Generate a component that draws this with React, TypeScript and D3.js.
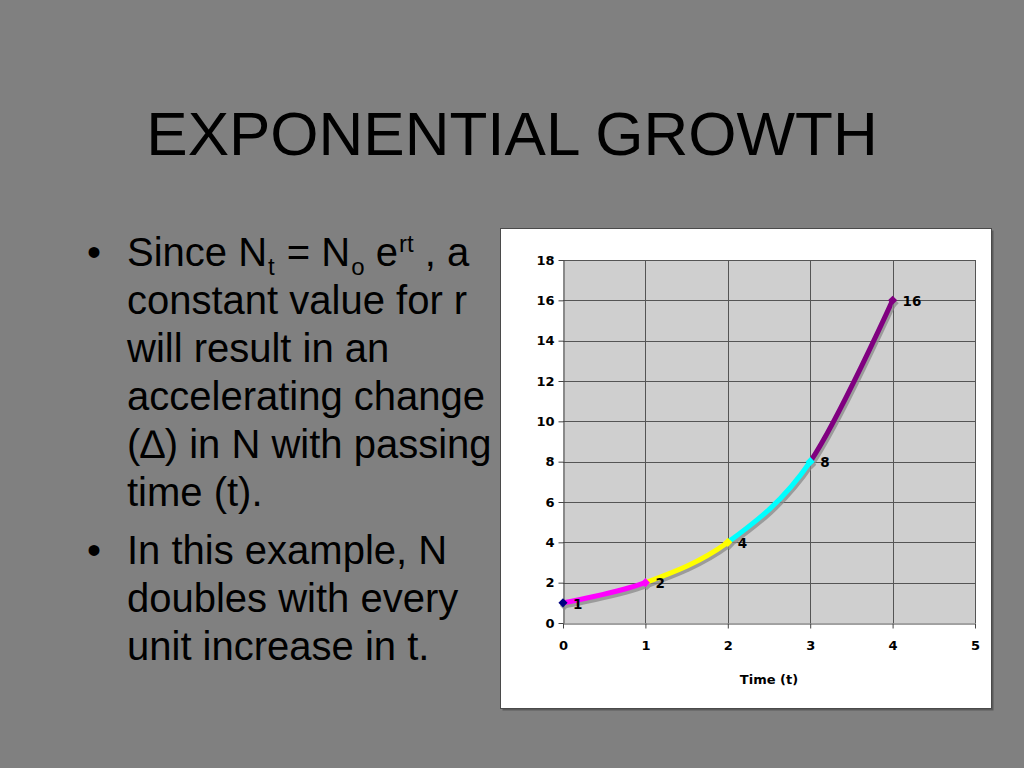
import React, { useEffect, useRef } from 'react'
import * as d3 from 'd3';

const W = 1024;
const H = 768;

// chart data
const times = [0, 1, 2, 3, 4];
const counts = [1, 2, 4, 8, 16];
const pointColors = ['#000080', '#ff00ff', '#ffff00', '#00ffff', '#800080'];
const xTicks = [0, 1, 2, 3, 4, 5];
const yTicks = [0, 2, 4, 6, 8, 10, 12, 14, 16, 18];

const TITLE = 'EXPONENTIAL GROWTH';
const bulletOneRest = ['constant value for r', 'will result in an', 'accelerating change', '(\u2206) in N with passing', 'time (t).'];
const bulletTwo = ['In this example, N', 'doubles with every', 'unit increase in t.'];

const TICK_FONT = '"DejaVu Sans", Verdana, sans-serif';
const SLIDE_FONT = '"Liberation Sans", Arial, sans-serif';

const App = () => {
  const svgRef = useRef<SVGSVGElement>(null);

  useEffect(() => {
    const svg = d3.select(svgRef.current);
    svg.selectAll('*').remove();

    // slide background
    svg.append('rect').attr('width', W).attr('height', H).attr('fill', '#808080');

    svg.append('text')
      .attr('x', 512).attr('y', 155)
      .attr('text-anchor', 'middle')
      .style('font', `62px ${SLIDE_FONT}`)
      .attr('fill', '#000')
      .text(TITLE);

    // bullet text
    const body = svg.append('g').style('font', `40px ${SLIDE_FONT}`).attr('fill', '#000');
    const LX = 127;
    const LH = 48;
    body.append('text').attr('x', 87).attr('y', 266).text('\u2022');
    const first = body.append('text').attr('x', LX).attr('y', 266);
    first.append('tspan').text('Since N');
    first.append('tspan').attr('dx', 1).attr('dy', 9).style('font-size', '24px').text('t');
    first.append('tspan').attr('dx', 1).attr('dy', -9).text(' = N');
    first.append('tspan').attr('dx', 1).attr('dy', 9).style('font-size', '24px').text('o');
    first.append('tspan').attr('dy', -9).text(' e');
    first.append('tspan').attr('dx', 1).attr('dy', -14).style('font-size', '24px').text('rt');
    first.append('tspan').attr('dy', 14).text(' , a');
    bulletOneRest.forEach((line, i) => {
      body.append('text').attr('x', LX).attr('y', 266 + LH * (i + 1)).text(line);
    });
    const y2 = 266 + LH * 6 + 10;
    body.append('text').attr('x', 87).attr('y', y2).text('\u2022');
    bulletTwo.forEach((line, i) => {
      body.append('text').attr('x', LX).attr('y', y2 + LH * i).text(line);
    });

    // chart box
    svg.append('rect')
      .attr('x', 502.5).attr('y', 230.5).attr('width', 491).attr('height', 480)
      .attr('fill', '#5a5a5a');
    svg.append('rect')
      .attr('x', 500.5).attr('y', 228.5).attr('width', 491).attr('height', 480)
      .attr('fill', '#fff').attr('stroke', '#4a4a4a');

    const x = d3.scaleLinear().domain([0, 5]).range([563, 975]);
    const y = d3.scaleLinear().domain([0, 18]).range([623, 260]);

    const plot = svg.append('g');
    plot.append('rect')
      .attr('x', x(0)).attr('y', y(18))
      .attr('width', x(5) - x(0)).attr('height', y(0) - y(18))
      .attr('fill', '#cfcfcf');

    plot.append('g').selectAll('line')
      .data(yTicks.slice(1))
      .join('line')
        .attr('x1', x(0)).attr('x2', x(5))
        .attr('y1', d => Math.round(y(d)) + 0.5).attr('y2', d => Math.round(y(d)) + 0.5)
        .attr('stroke', '#555');
    plot.append('g').selectAll('line')
      .data(xTicks.slice(1))
      .join('line')
        .attr('y1', y(0)).attr('y2', y(18))
        .attr('x1', d => Math.round(x(d)) + 0.5).attr('x2', d => Math.round(x(d)) + 0.5)
        .attr('stroke', '#555');

    // axes
    const yAxis = svg.append('g')
      .attr('transform', `translate(${x(0) + 0.5},0)`)
      .call(d3.axisLeft(y).tickValues(yTicks).tickSize(5).tickPadding(4).tickSizeOuter(0).tickFormat(d3.format('d')));
    const xAxis = svg.append('g')
      .attr('transform', `translate(0,${Math.round(y(0)) + 0.5})`)
      .call(d3.axisBottom(x).tickValues(xTicks).tickSize(5).tickPadding(12).tickSizeOuter(0).tickFormat(d3.format('d')));
    [yAxis, xAxis].forEach(a => {
      a.select('.domain').attr('stroke', '#444');
      a.selectAll('.tick line').attr('stroke', '#444');
      a.selectAll('.tick text')
        .attr('fill', '#000')
        .style('font', `bold 13px ${TICK_FONT}`);
    });

    svg.append('text')
      .attr('x', 769).attr('y', 684)
      .attr('text-anchor', 'middle')
      .style('font', `bold 13px ${TICK_FONT}`)
      .text('Time (t)');

    // smoothed series, each segment coloured by its end point
    const pts = times.map((t, i) => [t, counts[i]] as [number, number]);
    const line = d3.line<[number, number]>()
      .x(d => x(d[0]))
      .y(d => y(d[1]))
      .curve(d3.curveCatmullRom.alpha(0));

    const defs = svg.append('defs');
    times.slice(0, -1).forEach((t, i) => {
      defs.append('clipPath').attr('id', `seg${i}`)
        .append('rect')
          .attr('x', x(t)).attr('y', 200)
          .attr('width', x(times[i + 1]) - x(t)).attr('height', 500);
    });

    const marker = d3.symbol(d3.symbolSquare, 42);

    const shadow = svg.append('g').attr('transform', 'translate(1.5,3)').attr('opacity', 0.75);
    shadow.append('path')
      .attr('d', line(pts))
      .attr('fill', 'none').attr('stroke', '#8a8a8a').attr('stroke-width', 5);
    shadow.selectAll('path.m')
      .data(pts)
      .join('path')
        .attr('class', 'm')
        .attr('d', marker)
        .attr('transform', d => `translate(${x(d[0])},${y(d[1])}) rotate(45)`)
        .attr('fill', '#8a8a8a');

    const series = svg.append('g');
    times.slice(0, -1).forEach((t, i) => {
      series.append('path')
        .attr('d', line(pts))
        .attr('clip-path', `url(#seg${i})`)
        .attr('fill', 'none')
        .attr('stroke', pointColors[i + 1])
        .attr('stroke-width', 5);
    });
    series.selectAll('path.m')
      .data(pts)
      .join('path')
        .attr('class', 'm')
        .attr('d', marker)
        .attr('transform', d => `translate(${x(d[0])},${y(d[1])}) rotate(45)`)
        .attr('fill', (d, i) => pointColors[i]);

    svg.append('g')
      .selectAll('text')
      .data(pts)
      .join('text')
        .attr('x', d => x(d[0]) + 10)
        .attr('y', d => y(d[1]) + 1)
        .attr('dy', '0.35em')
        .style('font', `bold 13.5px ${TICK_FONT}`)
        .attr('fill', '#000')
        .text(d => d[1]);
  }, []);

  return (
    <div>
      <svg width={W} height={H} ref={svgRef} style={{ position: 'absolute', left: 0, top: 0 }} />
    </div>
  );
}

export default App;
